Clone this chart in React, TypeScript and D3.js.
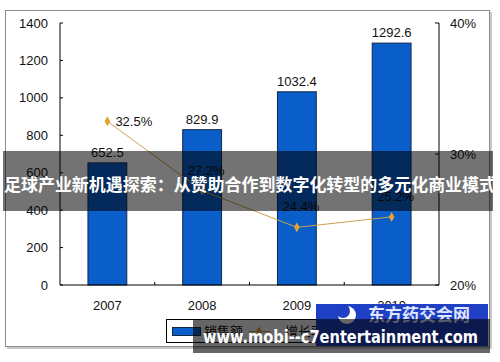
import React from 'react';
import * as d3 from 'd3';

// chart data
const years = ['2007', '2008', '2009', '2010'];
const sales = [652.5, 829.9, 1032.4, 1292.6];
const growth = [32.5, 27.2, 24.4, 25.2];
const leftTicks = [0, 200, 400, 600, 800, 1000, 1200, 1400];
const rightTicks = [20, 30, 40];
const legendNames = ['销售额', '增长率'];
const bannerText = '足球产业新机遇探索：从赞助合作到数字化转型的多元化商业模式';
const watermarkText = 'www.mobi--c7entertainment.com';
const logoText = '东方药交会网';

const FONT = '"Liberation Sans", Arial, sans-serif';
const CJK = '"Noto Sans CJK SC", sans-serif';

export default function App() {
  const width = 500;
  const height = 362;
  const plot = { left: 60, right: 439, top: 23, bottom: 285 };

  const x = d3.scaleBand()
    .domain(years)
    .range([plot.left, plot.right])
    .paddingInner(0.59)
    .paddingOuter(0.295);
  const step = x.step();
  const center = (d: string) => (x(d) as number) + x.bandwidth() / 2;

  const yLeft = d3.scaleLinear().domain([0, 1400]).range([plot.bottom, plot.top]);
  const yRight = d3.scaleLinear().domain([20, 40]).range([plot.bottom, plot.top]);

  const line = d3.line<number>()
    .x((_, i) => center(years[i]))
    .y(d => yRight(d));

  const diamond = d3.symbol().type(d3.symbolDiamond).size(28)();

  // category boundaries for the small x ticks
  const xBounds = years.slice(1).map(d => (x(d) as number) - (step - x.bandwidth()) / 2);

  return (
    <svg width={width} height={height} style={{ position: 'absolute', left: 0, top: 0, background: '#fff' }}>
      {/* outer frame with shadow */}
      <rect x={7} y={12} width={485} height={337} fill="#c8c8c8" />
      <rect x={5.5} y={10.5} width={484} height={336} fill="#fff" stroke="#8a8a8a" />

      {/* bars */}
      {years.map((d, i) => (
        <g key={d}>
          <rect
            x={x(d)}
            y={yLeft(sales[i])}
            width={x.bandwidth()}
            height={plot.bottom - yLeft(sales[i])}
            fill="#0a5ec9"
            stroke="#14264a"
            strokeWidth={1}
          />
          <text
            x={center(d)}
            y={yLeft(sales[i]) - 6}
            textAnchor="middle"
            fontFamily={FONT}
            fontSize={13}
            fill="#111"
          >{sales[i].toFixed(1)}</text>
        </g>
      ))}

      {/* left axis */}
      <line x1={plot.left} x2={plot.left} y1={plot.top} y2={plot.bottom} stroke="#000" />
      {leftTicks.map(t => (
        <g key={t}>
          <line x1={plot.left} x2={plot.left + 3} y1={yLeft(t)} y2={yLeft(t)} stroke="#000" />
          <text x={48} y={yLeft(t) + 4.5} textAnchor="end" fontFamily={FONT} fontSize={13} fill="#111">{t}</text>
        </g>
      ))}

      {/* right axis */}
      <line x1={plot.right} x2={plot.right} y1={plot.top} y2={plot.bottom} stroke="#000" />
      {rightTicks.map(t => (
        <g key={t}>
          <line x1={plot.right - 4} x2={plot.right} y1={yRight(t)} y2={yRight(t)} stroke="#000" />
          <text x={450} y={yRight(t) + 4.5} fontFamily={FONT} fontSize={13} fill="#111">{t}%</text>
        </g>
      ))}

      {/* x axis */}
      <line x1={plot.left} x2={plot.right} y1={plot.bottom} y2={plot.bottom} stroke="#000" />
      {xBounds.map((b, i) => (
        <line key={i} x1={b} x2={b} y1={plot.bottom} y2={plot.bottom - 3} stroke="#000" />
      ))}
      {years.map(d => (
        <text key={d} x={center(d)} y={310} textAnchor="middle" fontFamily={FONT} fontSize={13} fill="#111">{d}</text>
      ))}

      {/* growth line */}
      <path d={line(growth) || ''} fill="none" stroke="#c9a24e" strokeWidth={1} />
      {growth.map((g, i) => (
        <g key={i}>
          <path d={diamond} transform={`translate(${center(years[i])},${yRight(g)})`} fill="#e3a236" />
          {i === 0 ? (
            <text x={center(years[i]) + 8} y={yRight(g) + 4.5} fontFamily={FONT} fontSize={13} fill="#111">{g.toFixed(1)}%</text>
          ) : (
            <text x={center(years[i]) + 4} y={yRight(g) - 16} textAnchor="middle" fontFamily={FONT} fontSize={13} fill="#111">{g.toFixed(1)}%</text>
          )}
        </g>
      ))}

      {/* legend */}
      <rect x={166.5} y={319.5} width={170} height={23} fill="#fff" stroke="#000" />
      <rect x={172.5} y={327.5} width={28} height={8} fill="#0a5ec9" stroke="#14264a" />
      <text x={204} y={336} fontFamily={CJK} fontSize={13} fill="#111">{legendNames[0]}</text>
      <line x1={249} x2={270} y1={331.5} y2={331.5} stroke="#c9a24e" />
      <path d={diamond} transform="translate(259,331.5)" fill="#e3a236" />
      <text x={285} y={336} fontFamily={CJK} fontSize={13} fill="#111">{legendNames[1]}</text>

      {/* overlay banner */}
      <rect x={3} y={151} width={490} height={60} fill="#000" fillOpacity={0.55} />
      <text x={250} y={191} textAnchor="middle" fontFamily={CJK} fontWeight="bold" fontSize={17}
        fill="#fff" textLength={492} lengthAdjust="spacingAndGlyphs">{bannerText}</text>

      {/* logo watermark */}
      <rect x={316} y={304} width={172} height={42} fill="#1f3fc4" />
      <circle cx={347} cy={315} r={9} fill="#fff" />
      <circle cx={343} cy={311} r={7} fill="#1f3fc4" />
      <text x={368} y={321} fontFamily={CJK} fontWeight="bold" fontSize={17} fill="#dfe6ff">{logoText}</text>

      {/* url watermark */}
      <rect x={193} y={319} width={297} height={34} fill="#000" fillOpacity={0.6} />
      <text x={203} y={343} fontFamily='"DejaVu Sans", sans-serif' fontWeight="bold" fontSize={17}
        fill="#fff" textLength={275} lengthAdjust="spacingAndGlyphs">{watermarkText}</text>
    </svg>
  );
}
